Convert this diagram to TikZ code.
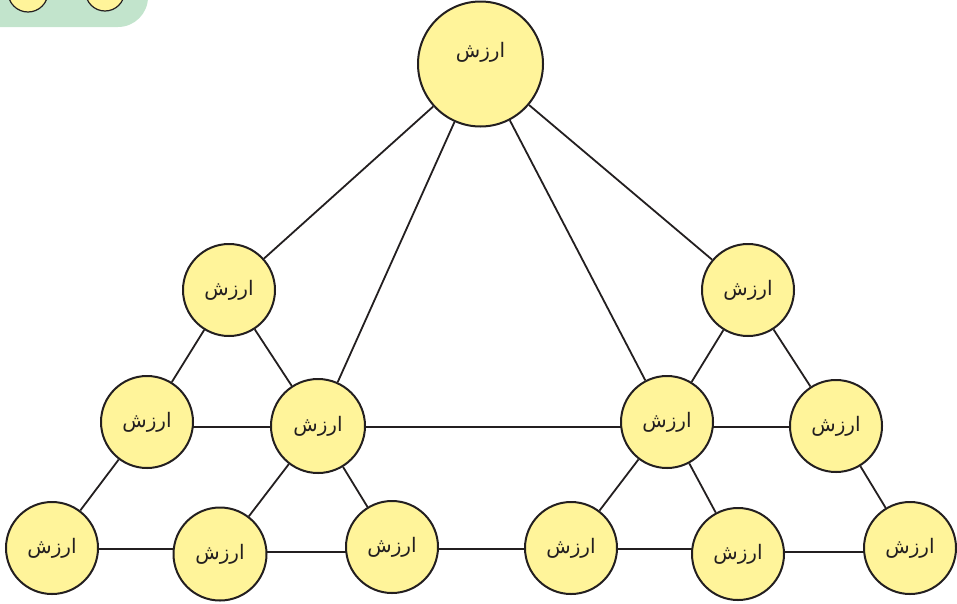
\documentclass[tikz,border=0pt]{standalone}
\usepackage{fontspec}
\usetikzlibrary{backgrounds}
\newfontfamily\arabicfont[Script=Arabic]{DejaVu Sans}
\TeXXeTstate=1
\definecolor{nodefill}{HTML}{FFF49A}
\definecolor{inkline}{HTML}{231F20}
\definecolor{decogreen}{HTML}{C2E4CC}
\newcommand\arzlabel{{\arabicfont\beginR ارزش\endR}}
\begin{document}
\begin{tikzpicture}[x=1pt,y=-1pt,
  basecirc/.style={circle, draw=inkline, line width=2pt, fill=nodefill, inner sep=0pt},
  lblstyle/.style={font=\fontsize{20}{23}\selectfont, text=inkline, inner sep=0pt},
  vnode/.style={basecirc, minimum size=92pt,
    label={[lblstyle, yshift=0pt]center:\arzlabel}},
  bignode/.style={basecirc, minimum size=125pt,
    label={[lblstyle, yshift=12pt]center:\arzlabel}},
  link/.style={draw=inkline, line width=1.8pt}]
\useasboundingbox (0,0) rectangle (957,603);
% decoration top-left
\fill[decogreen, rounded corners=30pt] (-60,-60) rectangle (148,27);
\node[basecirc, line width=1.2pt, minimum size=40pt] (d1) at (28,-8) {};
\node[basecirc, line width=1.2pt, minimum size=39pt] (d2) at (105,-8.5) {};
% nodes
\node[bignode] (t) at (480.5,64) {};
\node[vnode] (l2a) at (229,290) {};
\node[vnode] (l2b) at (748,290) {};
\node[vnode] (l3a) at (147,422) {};
\node[vnode, minimum size=94pt] (l3b) at (318,426) {};
\node[vnode] (l3c) at (667,422) {};
\node[vnode] (l3d) at (836,426) {};
\node[vnode] (l4a) at (52,548) {};
\node[vnode, minimum size=93pt] (l4b) at (220,554) {};
\node[vnode] (l4c) at (392,547) {};
\node[vnode] (l4d) at (571,548) {};
\node[vnode] (l4e) at (738,554) {};
\node[vnode] (l4f) at (910,548) {};
% links
\begin{scope}[on background layer]
\path[link] (t) -- (l2a);
\path[link] (t) -- (l3b);
\path[link] (t) -- (l3c);
\path[link] (t) -- (l2b);
\path[link] (l2a) -- (l3a);
\path[link] (l2a) -- (l3b);
\path[link] (l2b) -- (l3c);
\path[link] (l2b) -- (l3d);
\path[link] ([yshift=-5pt]l3a.center) -- ([yshift=-1pt]l3b.center);
\path[link] ([yshift=-1pt]l3b.center) -- ([yshift=-5pt]l3c.center);
\path[link] ([yshift=-5pt]l3c.center) -- ([yshift=-1pt]l3d.center);
\path[link] (l3a) -- (l4a);
\path[link] (l3b) -- (l4b);
\path[link] (l3b) -- (l4c);
\path[link] (l3c) -- (l4d);
\path[link] (l3c) -- (l4e);
\path[link] (l3d) -- (l4f);
\path[link] ([yshift=-1pt]l4a.center) -- ([yshift=5pt]l4b.center);
\path[link] ([yshift=2pt]l4b.center) -- ([yshift=-5pt]l4c.center);
\path[link] ([yshift=-2pt]l4c.center) -- ([yshift=-1pt]l4d.center);
\path[link] ([yshift=-1pt]l4d.center) -- ([yshift=5pt]l4e.center);
\path[link] ([yshift=2pt]l4e.center) -- ([yshift=-4pt]l4f.center);
\end{scope}
\end{tikzpicture}
\end{document}
